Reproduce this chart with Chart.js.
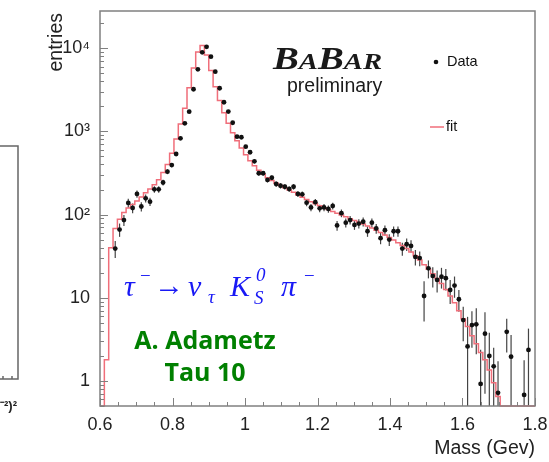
<!DOCTYPE html>
<html>
<head>
<meta charset="utf-8">
<script src="https://cdn.jsdelivr.net/npm/chart.js@4.4.1/dist/chart.umd.min.js"></script>
<style>
  html, body { margin: 0; padding: 0; background: #fff; }
  #wrap { width: 549px; height: 462px; }
</style>
</head>
<body>
<div id="wrap"><canvas id="chartMass" width="549" height="462"></canvas></div>
<script>
// K_S pi mass spectrum, 100 bins of 12 MeV from 0.6 to 1.8 GeV
const binLow = 0.6;
const binWidth = 0.012;
const yMin = 0.5;
const yMax = 28000;

const dataEntries = [
  null, null, null, 39, 66, 86, 138, 120, 177, 125,
  157, 143, 201, 201, 243, 328, 394, 535, 826, 1250,
  1725, 3210, 5570, 8930, 10400, 7900, 5220, 3300, 2240, 1730,
  1270, 864, 850, 655, 561, 437, 314, 314, 261, 277,
  233, 222, 216, 203, 216, 177, 175, 139, 122, 141,
  119, 122, 117, 127, 74, 104, 80, 86, 75, 78,
  82, 63, 80, 68, 52, 65, 50, 63, 63, 39,
  44, 42, 31, 30, 10.5, 22.6, 18.3, 16.4, 17.9, 17.2,
  12.4, 14, 9.6, 5.4, 2.6, 4.7, 4.8, 0.92, 3.7, 2.0,
  1.5, 0.72, null, 3.9, 1.96, null, null, 0.68, 2.36, null
];

const dataErrors = [
  null, null, null, 9, 12, 13, 17, 16, 18, 16,
  17, 16, 18, 18, 20, 22, 24, 28, 35, 42,
  50, 70, 90, 110, 120, 105, 85, 68, 55, 48,
  40, 33, 33, 29, 27, 24, 20, 20, 18, 18,
  17, 16, 16, 15, 16, 14, 14, 13, 12, 13,
  12, 12, 12, 12, 10, 11, 10, 10, 9.5, 10,
  10, 9, 10, 9, 8, 9, 8, 9, 9, 7,
  7.5, 7, 6.5, 6, 5.3, 5.5, 5, 4.8, 5, 5,
  4, 4, 2.8, 2.4, 3.3, 2.2, 2.7, 1.45, 3.0, 1.8,
  1.0, 1.0, null, 1.7, 1.6, null, null, 1.1, 1.9, null
];

const fitEntries = [
  0, 0, 1.8, 40, 68, 88, 106, 120, 132, 146,
  163, 183, 203, 228, 262, 320, 400, 545, 810, 1230,
  1900, 3350, 5800, 9000, 10800, 8300, 5400, 3450, 2350, 1680,
  1250, 960, 770, 630, 525, 445, 385, 340, 305, 278,
  256, 238, 223, 210, 198, 185, 172, 162, 152, 143,
  135, 128, 121, 115, 109, 104, 99, 94, 89, 85,
  81, 77, 73, 69, 65, 61, 57, 53, 49.5, 46,
  42.5, 39, 35.5, 32, 28.5, 25, 22, 19.5, 17, 14.8,
  12.6, 10.5, 8.7, 7, 5.6, 4.5, 3.5, 2.8, 2.2, 1.8,
  1.35, 0.95, 0.65, 0, 0, 0, 0, 0, 0, 0
];

const xTicks = [0.6, 0.8, 1, 1.2, 1.4, 1.6, 1.8];
const yTicks = [1, 10, 100, 1000, 10000];
const yTickLabels = ['1', '10', '10²', '10³', '10⁴'];

const fitColor = 'rgb(240, 110, 122)';
const frameColor = '#808080';
const sansFamily = '"Liberation Sans", Arial, sans-serif';
const serifFamily = '"Liberation Serif", "Times New Roman", serif';

// data points with their error
const points = [];
dataEntries.forEach((v, i) => {
  if (v === null) return;
  points.push({ x: binLow + (i + 0.5) * binWidth, y: v, err: dataErrors[i] });
});

// fit as a step histogram over the bin edges, empty bins sit on the axis floor
const fitSteps = fitEntries.map((v, i) => ({ x: binLow + i * binWidth, y: v > 0 ? v : yMin }));
const lastFit = fitEntries[fitEntries.length - 1];
fitSteps.push({ x: binLow + fitEntries.length * binWidth, y: lastFit > 0 ? lastFit : yMin });

// scales would otherwise reserve room for half a label at each end
const noEdgePadding = (scale) => {
  scale.paddingTop = 0;
  scale.paddingBottom = 0;
  scale.paddingLeft = 0;
  scale.paddingRight = 0;
};

const errorBars = {
  id: 'errorBars',
  beforeDatasetsDraw(chart) {
    const { ctx, chartArea, scales: { x, y } } = chart;
    ctx.save();
    ctx.beginPath();
    ctx.rect(chartArea.left, chartArea.top, chartArea.right - chartArea.left, chartArea.bottom - chartArea.top);
    ctx.clip();
    ctx.strokeStyle = '#444';
    ctx.lineWidth = 1.2;
    points.forEach(p => {
      const px = x.getPixelForValue(p.x);
      const lo = p.y - p.err;
      const yTop = y.getPixelForValue(p.y + p.err);
      const yBot = lo > yMin ? y.getPixelForValue(lo) : chartArea.bottom;
      ctx.beginPath();
      ctx.moveTo(px, yTop);
      ctx.lineTo(px, yBot);
      ctx.stroke();
    });
    ctx.restore();
  }
};

const frameAndText = {
  id: 'frameAndText',
  afterDraw(chart) {
    const { ctx, chartArea: a, scales: { x, y } } = chart;
    ctx.save();

    // frame
    ctx.strokeStyle = frameColor;
    ctx.lineWidth = 1.5;
    ctx.strokeRect(a.left, a.top, a.right - a.left, a.bottom - a.top);

    // ticks pointing into the frame
    ctx.lineWidth = 1;
    ctx.beginPath();
    for (let i = 0; i <= 24; i++) {
      const v = 0.6 + i * 0.05;
      const px = Math.round(x.getPixelForValue(v)) + 0.5;
      const len = (i % 4 === 0) ? 8 : 4;
      ctx.moveTo(px, a.bottom);
      ctx.lineTo(px, a.bottom - len);
    }
    for (let d = -1; d <= 4; d++) {
      for (let k = 1; k <= 9; k++) {
        const v = k * Math.pow(10, d);
        if (v < yMin || v > yMax) continue;
        const py = Math.round(y.getPixelForValue(v)) + 0.5;
        const len = k === 1 ? 8 : 4;
        ctx.moveTo(a.left, py);
        ctx.lineTo(a.left + len, py);
      }
    }
    ctx.stroke();

    // axis titles
    ctx.fillStyle = '#222';
    ctx.font = '19.5px ' + sansFamily;
    ctx.textAlign = 'right';
    ctx.textBaseline = 'middle';
    ctx.fillText('Mass (Gev)', a.right, 449);
    ctx.save();
    ctx.translate(62, 13);
    ctx.rotate(-Math.PI / 2);
    ctx.textBaseline = 'alphabetic';
    ctx.fillText('entries', 0, 0);
    ctx.restore();

    // BaBar logo, letters stretched sideways
    ctx.fillStyle = '#1a1a1a';
    ctx.textAlign = 'left';
    ctx.textBaseline = 'alphabetic';
    const big = 'italic bold 31px ' + serifFamily;
    const small = 'italic bold 23px ' + serifFamily;
    ctx.save();
    ctx.translate(273, 69);
    ctx.scale(1.25, 1);
    let lx = 0;
    [['B', big], ['A', small], ['B', big], ['A', small], ['R', small]].forEach(([c, f]) => {
      ctx.font = f;
      ctx.fillText(c, lx, 0);
      lx += ctx.measureText(c).width;
    });
    ctx.restore();
    ctx.font = '19.5px ' + sansFamily;
    ctx.fillText('preliminary', 287, 92);

    // legend
    ctx.font = '14.5px ' + sansFamily;
    ctx.textBaseline = 'middle';
    ctx.fillStyle = '#111';
    ctx.beginPath();
    ctx.arc(436, 62, 2.3, 0, Math.PI * 2);
    ctx.fill();
    ctx.fillText('Data', 447, 62);
    ctx.strokeStyle = fitColor;
    ctx.lineWidth = 1.5;
    ctx.beginPath();
    ctx.moveTo(430, 127);
    ctx.lineTo(444, 127);
    ctx.stroke();
    ctx.fillText('fit', 446, 127);

    // decay formula
    ctx.fillStyle = 'rgb(25, 25, 245)';
    ctx.textBaseline = 'alphabetic';
    const it = 'italic 30px ' + serifFamily;
    const itSmall = 'italic 19px ' + serifFamily;
    const up = '30px ' + serifFamily;
    const upSmall = '19px ' + serifFamily;
    const parts = [
      ['τ', it, 124, 296], ['−', upSmall, 140, 282],
      ['→', up, 154, 295],
      ['ν', it, 188, 296], ['τ', itSmall, 208, 303],
      ['K', it, 230, 296], ['0', itSmall, 256, 281], ['S', itSmall, 254, 304],
      ['π', it, 281, 296], ['−', upSmall, 304, 282]
    ];
    parts.forEach(([s, f, px, py]) => {
      ctx.font = f;
      ctx.fillText(s, px, py);
    });

    // credit
    ctx.fillStyle = 'rgb(0, 128, 0)';
    ctx.font = 'bold 25px "Open Sans", "Liberation Sans", sans-serif';
    ctx.textAlign = 'center';
    ctx.fillText('A. Adametz', 205, 349);
    ctx.fillText('Tau 10', 205, 381);

    // edge of the neighbouring panel
    ctx.strokeStyle = '#666';
    ctx.lineWidth = 1.5;
    ctx.beginPath();
    ctx.moveTo(0, 146);
    ctx.lineTo(18, 146);
    ctx.lineTo(18, 379);
    ctx.lineTo(0, 379);
    ctx.moveTo(3, 379);
    ctx.lineTo(3, 376);
    ctx.moveTo(12, 379);
    ctx.lineTo(12, 376);
    ctx.stroke();
    ctx.fillStyle = '#222';
    ctx.textAlign = 'left';
    ctx.font = 'bold 13px ' + sansFamily;
    ctx.fillText('⁻²)²', 0, 410);

    ctx.restore();
  }
};

const ctxMass = document.getElementById('chartMass');
const chartMass = new Chart(ctxMass, {
  type: 'line',
  data: {
    datasets: [
      {
        label: 'Data',
        type: 'scatter',
        data: points,
        pointRadius: 2.4,
        pointBackgroundColor: '#111',
        pointBorderWidth: 0,
        showLine: false,
        order: 1
      },
      {
        label: 'fit',
        data: fitSteps,
        stepped: 'after',
        borderColor: fitColor,
        borderWidth: 1.5,
        pointRadius: 0,
        fill: false,
        clip: 3,
        order: 2
      }
    ]
  },
  options: {
    responsive: false,
    animation: false,
    events: [],
    layout: { padding: { top: 11, right: 14, left: 0, bottom: 0 } },
    plugins: {
      legend: { display: false },
      tooltip: { enabled: false }
    },
    scales: {
      x: {
        type: 'linear',
        min: 0.6,
        max: 1.8,
        afterFit: (scale) => { scale.height = 56; noEdgePadding(scale); },
        afterBuildTicks: (scale) => { scale.ticks = xTicks.map(v => ({ value: v })); },
        ticks: {
          color: '#222',
          font: { family: sansFamily, size: 18 },
          padding: 8,
          maxRotation: 0,
          callback: (v) => String(Math.round(v * 10) / 10)
        },
        grid: { display: false, drawTicks: false },
        border: { display: false }
      },
      y: {
        type: 'logarithmic',
        min: yMin,
        max: yMax,
        afterFit: (scale) => { scale.width = 100; noEdgePadding(scale); },
        afterBuildTicks: (scale) => { scale.ticks = yTicks.map(v => ({ value: v })); },
        ticks: {
          color: '#222',
          font: { family: sansFamily, size: 18 },
          padding: 10,
          callback: (v) => yTickLabels[yTicks.indexOf(v)]
        },
        grid: { display: false, drawTicks: false },
        border: { display: false }
      }
    }
  },
  plugins: [errorBars, frameAndText]
});
</script>
</body>
</html>
